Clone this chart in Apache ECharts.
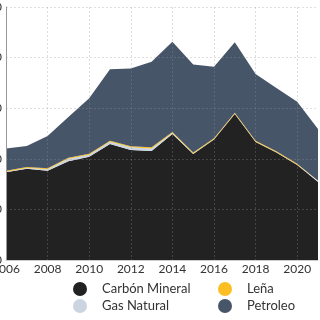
<!DOCTYPE html>
<html>
<head>
<meta charset="utf-8">
<script src="https://cdn.jsdelivr.net/npm/echarts@6/dist/echarts.min.js"></script>
<style>
html,body{margin:0;padding:0;background:#fff;}
#chart{width:320px;height:320px;}
</style>
</head>
<body>
<div id="chart"></div>
<script>
var years = ['2006','2007','2008','2009','2010','2011','2012','2013','2014','2015','2016','2017','2018','2019','2020','2021'];
var carbonMineral = [86.6, 90.2, 88.2, 97.5, 102.1, 114.6, 108.7, 107.7, 124.5, 104.7, 119, 144.2, 116.6, 106.2, 93.9, 77.1];
var gasNatural = [0.5, 0.6, 1.5, 2.5, 1.8, 2.2, 2.6, 2.6, 1.0, 0.6, 0.3, 0.3, 0.3, 0.3, 0.3, 0.3];
var lena = [1, 1, 1, 1, 1, 1, 1, 1, 1, 1, 1, 1, 1, 1, 1, 1];
var petroleo = [22.1, 20.8, 31.8, 40.3, 54.9, 70.7, 76.9, 84.6, 89.2, 86.9, 70.7, 69.6, 65.9, 62.4, 61.2, 51.0];
var yTicks = {min: 0, max: 250, interval: 50};

var names = ['Carbón Mineral', 'Gas Natural', 'Leña', 'Petroleo'];
var colors = ['#222222', '#cbd5e1', '#fbbf24', '#475569'];
var datas = [carbonMineral, gasNatural, lena, petroleo];

var chart = echarts.init(document.getElementById('chart'));
var legendText = {fontFamily: 'Lato', fontSize: 13, color: '#333', padding: [0, 0, 0, 10]};
chart.setOption({
  animation: false,
  backgroundColor: '#fff',
  color: colors,
  grid: {left: 6, right: 2, top: 7, bottom: 60, containLabel: false, outerBoundsMode: 'none'},
  legend: [
    {data: ['Carbón Mineral', 'Gas Natural'], orient: 'vertical', left: 73, top: 282, padding: 0,
     icon: 'circle', itemWidth: 14, itemHeight: 14, itemGap: 3, textStyle: legendText},
    {data: ['Leña', 'Petroleo'], orient: 'vertical', left: 218, top: 282, padding: 0,
     icon: 'circle', itemWidth: 14, itemHeight: 14, itemGap: 3, textStyle: legendText}
  ],
  xAxis: {
    type: 'category', data: years, boundaryGap: false, z: 10,
    axisLine: {lineStyle: {color: '#cccccc'}},
    axisTick: {show: false},
    axisLabel: {interval: 1, margin: 3, fontFamily: 'Lato', fontSize: 12, color: '#333'},
    splitLine: {show: true, interval: 1, lineStyle: {color: 'rgba(150,150,150,0.3)', type: [2, 2]}}
  },
  yAxis: {
    type: 'value', min: yTicks.min, max: yTicks.max, interval: yTicks.interval, z: 10,
    axisLine: {show: true, lineStyle: {color: '#999'}},
    axisTick: {show: false},
    axisLabel: {margin: 4, fontFamily: 'Lato', fontSize: 12, color: '#333'},
    splitLine: {show: true, lineStyle: {color: 'rgba(150,150,150,0.3)', type: [2, 2]}}
  },
  series: names.map(function (n, i) {
    return {
      name: n, type: 'line', stack: 'total', data: datas[i],
      showSymbol: false, symbol: 'none',
      lineStyle: {width: 0},
      areaStyle: {color: colors[i], opacity: 1},
      itemStyle: {color: colors[i]}
    };
  })
});
</script>
</body>
</html>
